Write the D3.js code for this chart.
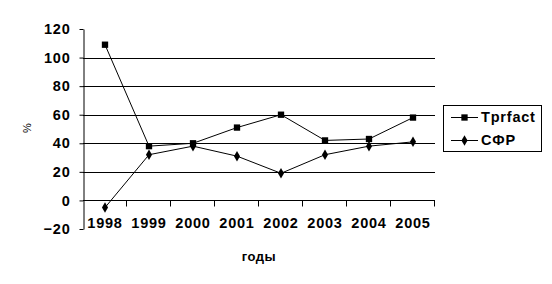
<!DOCTYPE html>
<html>
<head>
<meta charset="utf-8">
<script src="https://cdn.jsdelivr.net/npm/d3@7"></script>
<style>
  html, body { margin: 0; padding: 0; background: #fff; }
  svg { display: block; font-family: "Liberation Sans", Arial, sans-serif; }
</style>
</head>
<body>
<svg id="chart" width="552" height="284"></svg>
<script>
const years = ['1998', '1999', '2000', '2001', '2002', '2003', '2004', '2005'];
const tprfact = [109, 38, 40, 51, 60, 42, 43, 58];
const sfr = [-5, 32, 38, 31, 19, 32, 38, 41];
const yTicks = [-20, 0, 20, 40, 60, 80, 100, 120];
const gridValues = [20, 40, 60, 80, 100];

const svg = d3.select('#chart');

const plotLeft = 83, plotRight = 435, plotTop = 29, plotBottom = 229;

const x = d3.scaleBand().domain(years).range([plotLeft, plotRight]);
const y = d3.scaleLinear().domain([-20, 120]).range([plotBottom, plotTop]);

// gridlines
svg.append('g')
  .selectAll('line')
  .data(gridValues)
  .enter()
  .append('line')
  .attr('x1', plotLeft)
  .attr('x2', plotRight)
  .attr('y1', d => Math.round(y(d)) + 0.5)
  .attr('y2', d => Math.round(y(d)) + 0.5)
  .attr('stroke', '#000')
  .attr('stroke-width', 1);

// y axis
const yAxis = svg.append('g')
  .attr('transform', `translate(${plotLeft + 0.5},0)`)
  .call(d3.axisLeft(y).tickValues(yTicks).tickSize(4).tickSizeOuter(0).tickPadding(9));
yAxis.select('.domain').attr('stroke', '#000');
yAxis.selectAll('.tick line').attr('stroke', '#000');
yAxis.selectAll('.tick text')
  .attr('fill', '#000')
  .style('font-size', '14.5px')
  .style('font-weight', 'bold')
  .style('letter-spacing', '0.8px');

// x axis line at zero with boundary ticks
const y0 = Math.round(y(0)) + 0.5;
svg.append('line')
  .attr('x1', plotLeft).attr('x2', plotRight)
  .attr('y1', y0).attr('y2', y0)
  .attr('stroke', '#000');

const boundaries = years.map(d => x(d)).concat([plotRight]);
svg.append('g')
  .selectAll('line')
  .data(boundaries.slice(1))
  .enter()
  .append('line')
  .attr('x1', d => Math.round(d) - 0.5)
  .attr('x2', d => Math.round(d) - 0.5)
  .attr('y1', y0)
  .attr('y2', y0 + 6)
  .attr('stroke', '#000');

svg.append('g')
  .selectAll('text')
  .data(years)
  .enter()
  .append('text')
  .attr('x', d => x(d) + x.bandwidth() / 2)
  .attr('y', 228)
  .attr('text-anchor', 'middle')
  .style('font-size', '14.5px')
  .style('font-weight', 'bold')
  .style('letter-spacing', '0.8px')
  .text(d => d);

// series
const line = d3.line()
  .x((d, i) => x(years[i]) + x.bandwidth() / 2)
  .y(d => y(d));

svg.append('path')
  .datum(tprfact)
  .attr('d', line)
  .attr('fill', 'none')
  .attr('stroke', '#000')
  .attr('stroke-width', 1);

svg.append('path')
  .datum(sfr)
  .attr('d', line)
  .attr('fill', 'none')
  .attr('stroke', '#000')
  .attr('stroke-width', 1);

const square = d3.symbol().type(d3.symbolSquare).size(40);
const diamond = d3.symbol().type(d3.symbolDiamond).size(32);

svg.append('g')
  .selectAll('path')
  .data(tprfact)
  .enter()
  .append('path')
  .attr('d', square)
  .attr('transform', (d, i) => `translate(${x(years[i]) + x.bandwidth() / 2},${y(d)})`)
  .attr('fill', '#000');

svg.append('g')
  .selectAll('path')
  .data(sfr)
  .enter()
  .append('path')
  .attr('d', diamond)
  .attr('transform', (d, i) => `translate(${x(years[i]) + x.bandwidth() / 2},${y(d)})`)
  .attr('fill', '#000');

// axis titles
svg.append('text')
  .attr('transform', 'translate(31,128) rotate(-90)')
  .attr('text-anchor', 'middle')
  .style('font-size', '11px')
  .text('%');

svg.append('text')
  .attr('x', (plotLeft + plotRight) / 2)
  .attr('y', 261)
  .attr('text-anchor', 'middle')
  .style('font-size', '13px')
  .style('font-weight', 'bold')
  .style('letter-spacing', '0.5px')
  .text('годы');

// legend
const legend = svg.append('g');
legend.append('rect')
  .attr('x', 443.5).attr('y', 105.5)
  .attr('width', 98).attr('height', 46)
  .attr('fill', '#fff')
  .attr('stroke', '#000');

const legendItems = [
  { name: 'Tprfact', symbol: square, y: 117 },
  { name: 'СФР', symbol: diamond, y: 140 }
];

legendItems.forEach(item => {
  legend.append('line')
    .attr('x1', 451).attr('x2', 478)
    .attr('y1', item.y + 0.5).attr('y2', item.y + 0.5)
    .attr('stroke', '#000');
  legend.append('path')
    .attr('d', item.symbol)
    .attr('transform', `translate(464.5,${item.y + 0.5})`)
    .attr('fill', '#000');
  legend.append('text')
    .attr('x', 481)
    .attr('y', item.y + 5)
    .style('font-size', '14.5px')
    .style('font-weight', 'bold')
    .style('letter-spacing', '0.8px')
    .text(item.name);
});
</script>
</body>
</html>
